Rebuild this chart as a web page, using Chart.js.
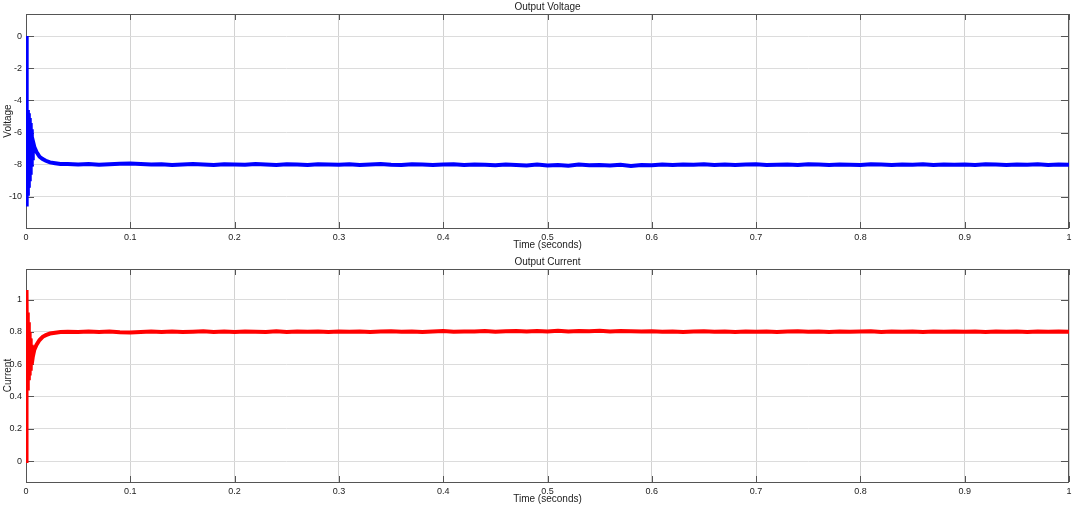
<!DOCTYPE html>
<html>
<head>
<meta charset="utf-8">
<script src="https://cdn.jsdelivr.net/npm/chart.js@4"></script>
<style>
  body { margin: 0; background: #fff; }
  canvas { display: block; }
</style>
</head>
<body>
<canvas id="chartVoltage" width="1080" height="254"></canvas>
<canvas id="chartCurrent" width="1080" height="254"></canvas>
<script>
// axis ticks
var timeTicks = [0, 0.1, 0.2, 0.3, 0.4, 0.5, 0.6, 0.7, 0.8, 0.9, 1];
var voltageTicks = [0, -2, -4, -6, -8, -10];
var currentTicks = [0, 0.2, 0.4, 0.6, 0.8, 1];

// sample times: dense during the start-up transient, then every 0.01 s
var timeV = [0, 0.0004, 0.0009, 0.0013, 0.0018, 0.0022, 0.0027, 0.0031, 0.0036, 0.004, 0.0045, 0.005, 0.0055, 0.006, 0.0065, 0.008, 0.01, 0.013, 0.016, 0.019, 0.023, 0.028, 0.033,
  0.04, 0.05, 0.06, 0.07, 0.08, 0.09, 0.10, 0.11, 0.12, 0.13, 0.14, 0.15, 0.16, 0.17, 0.18, 0.19, 0.20, 0.21, 0.22, 0.23, 0.24, 0.25, 0.26, 0.27, 0.28, 0.29, 0.30,
  0.31, 0.32, 0.33, 0.34, 0.35, 0.36, 0.37, 0.38, 0.39, 0.40, 0.41, 0.42, 0.43, 0.44, 0.45, 0.46, 0.47, 0.48, 0.49, 0.50, 0.51, 0.52, 0.53, 0.54, 0.55, 0.56, 0.57, 0.58, 0.59, 0.60,
  0.61, 0.62, 0.63, 0.64, 0.65, 0.66, 0.67, 0.68, 0.69, 0.70, 0.71, 0.72, 0.73, 0.74, 0.75, 0.76, 0.77, 0.78, 0.79, 0.80, 0.81, 0.82, 0.83, 0.84, 0.85, 0.86, 0.87, 0.88, 0.89, 0.90,
  0.91, 0.92, 0.93, 0.94, 0.95, 0.96, 0.97, 0.98, 0.99, 1.00];
var voltage = [0, -10.6, -4.5, -9.8, -4.6, -9.3, -4.8, -8.9, -5.1, -8.5, -5.4, -8.0, -5.8, -7.6, -6.5, -6.9, -7.2, -7.5, -7.65, -7.75, -7.85, -7.9, -7.95,
  -7.96, -7.98, -7.95, -8.0, -7.97, -7.93, -7.92, -7.95, -7.99, -7.97, -8.01, -7.98, -7.96, -7.99, -8.02, -7.97, -7.98, -8.0, -7.96, -7.99, -8.01, -7.97, -7.98, -8.02, -7.97, -7.99, -8.0,
  -7.97, -8.01, -7.98, -7.96, -8.0, -8.02, -7.97, -7.99, -8.01, -7.98, -7.97, -8.02, -7.99, -8.0, -8.03, -7.98, -8.01, -8.04, -7.99, -8.05, -8.01, -8.06, -7.99, -8.03, -8.02, -8.05, -8.0, -8.07, -8.01, -8.03,
  -7.98, -8.02, -7.99, -8.0, -7.97, -8.01, -7.98, -8.02, -7.99, -7.97, -8.01, -8.0, -7.98, -8.02, -7.97, -7.99, -8.01, -7.98, -8.0, -8.02, -7.97, -7.99, -8.01, -7.98, -8.0, -7.97, -8.02, -7.99, -8.0, -7.98,
  -8.01, -7.97, -7.99, -8.02, -7.98, -8.0, -7.97, -8.01, -7.99, -8.0];

var timeI = [0, 0.0002, 0.0008, 0.0011, 0.0015, 0.0019, 0.0023, 0.0027, 0.0031, 0.0035, 0.004, 0.0045, 0.005, 0.0055, 0.0065, 0.008, 0.01, 0.013, 0.016, 0.019, 0.023, 0.028, 0.033,
  0.04, 0.05, 0.06, 0.07, 0.08, 0.09, 0.10, 0.11, 0.12, 0.13, 0.14, 0.15, 0.16, 0.17, 0.18, 0.19, 0.20, 0.21, 0.22, 0.23, 0.24, 0.25, 0.26, 0.27, 0.28, 0.29, 0.30,
  0.31, 0.32, 0.33, 0.34, 0.35, 0.36, 0.37, 0.38, 0.39, 0.40, 0.41, 0.42, 0.43, 0.44, 0.45, 0.46, 0.47, 0.48, 0.49, 0.50, 0.51, 0.52, 0.53, 0.54, 0.55, 0.56, 0.57, 0.58, 0.59, 0.60,
  0.61, 0.62, 0.63, 0.64, 0.65, 0.66, 0.67, 0.68, 0.69, 0.70, 0.71, 0.72, 0.73, 0.74, 0.75, 0.76, 0.77, 0.78, 0.79, 0.80, 0.81, 0.82, 0.83, 0.84, 0.85, 0.86, 0.87, 0.88, 0.89, 0.90,
  0.91, 0.92, 0.93, 0.94, 0.95, 0.96, 0.97, 0.98, 0.99, 1.00];
var current = [0, 0.6, 1.06, 0.45, 0.92, 0.48, 0.86, 0.5, 0.8, 0.53, 0.76, 0.56, 0.72, 0.6, 0.645, 0.69, 0.72, 0.75, 0.77, 0.78, 0.79, 0.795, 0.80,
  0.801, 0.799, 0.803, 0.8, 0.802, 0.798, 0.797, 0.799, 0.802, 0.8, 0.803, 0.799, 0.801, 0.804, 0.8, 0.802, 0.799, 0.803, 0.801, 0.8, 0.804, 0.799, 0.802, 0.801, 0.803, 0.8, 0.802,
  0.801, 0.803, 0.8, 0.802, 0.804, 0.801, 0.803, 0.8, 0.802, 0.805, 0.801, 0.803, 0.802, 0.805, 0.801, 0.804, 0.806, 0.802, 0.805, 0.803, 0.807, 0.802, 0.805, 0.804, 0.808, 0.803, 0.806, 0.804, 0.802, 0.804,
  0.801, 0.803, 0.8, 0.802, 0.804, 0.801, 0.803, 0.8, 0.802, 0.801, 0.803, 0.8, 0.802, 0.804, 0.801, 0.802, 0.8, 0.803, 0.801, 0.802, 0.804, 0.8, 0.802, 0.801, 0.803, 0.8, 0.802, 0.801, 0.803, 0.801,
  0.802, 0.8, 0.803, 0.801, 0.802, 0.8, 0.803, 0.801, 0.802, 0.801];

var frameColor = '#555';

// box round the plot area plus MATLAB style inner tick marks
var framePlugin = {
    id: 'frame',
    beforeDatasetsDraw: function(chart) {
        var ctx = chart.ctx, a = chart.chartArea;
        var xs = chart.scales.x, ys = chart.scales.y;
        ctx.save();
        ctx.strokeStyle = frameColor;
        ctx.lineWidth = 1;
        ctx.beginPath();
        xs.ticks.forEach(function(t) {
            var px = Math.round(xs.getPixelForValue(t.value)) + 0.5;
            ctx.moveTo(px, a.bottom); ctx.lineTo(px, a.bottom - 6);
            ctx.moveTo(px, a.top); ctx.lineTo(px, a.top + 6);
        });
        ys.ticks.forEach(function(t) {
            var py = Math.round(ys.getPixelForValue(t.value)) + 0.5;
            ctx.moveTo(a.left, py); ctx.lineTo(a.left + 8, py);
            ctx.moveTo(a.right, py); ctx.lineTo(a.right - 8, py);
        });
        ctx.stroke();
        ctx.strokeRect(Math.round(a.left) + 0.5, Math.round(a.top) + 0.5,
            Math.round(a.right - a.left) - 1, Math.round(a.bottom - a.top));
        ctx.restore();
    }
};

function makeChart(id, times, values, color, title, yLabel, yMin, yMax, yTicks, titlePad) {
    var points = times.map(function(t, i) { return { x: t, y: values[i] }; });
    var ctx = document.getElementById(id).getContext('2d');
    return new Chart(ctx, {
        type: 'line',
        data: {
            datasets: [{
                data: points,
                borderColor: color,
                borderWidth: 4,
                borderJoinStyle: 'miter',
                pointRadius: 0,
                tension: 0,
                fill: false
            }]
        },
        options: {
            responsive: false,
            animation: false,
            devicePixelRatio: 1,
            layout: { padding: { left: 0, right: 11, top: 0, bottom: 0 } },
            plugins: {
                legend: { display: false },
                tooltip: { enabled: false },
                title: {
                    display: true,
                    text: title,
                    fullSize: false,
                    color: '#222',
                    font: { family: 'Liberation Sans, Arial', size: 10, weight: 'normal' },
                    padding: titlePad
                }
            },
            scales: {
                x: {
                    type: 'linear',
                    min: 0,
                    max: 1,
                    afterBuildTicks: function(s) { s.ticks = timeTicks.map(function(v) { return { value: v }; }); },
                    afterFit: function(s) { s.height = 26; },
                    grid: { color: '#d2d2d2', drawTicks: false },
                    border: { display: false },
                    ticks: {
                        padding: 4,
                        color: '#222',
                        maxRotation: 0,
                        font: { family: 'Liberation Sans, Arial', size: 9 },
                        callback: function(v) { return String(Math.round(v * 10) / 10); }
                    },
                    title: {
                        display: true,
                        text: 'Time (seconds)',
                        color: '#222',
                        font: { family: 'Liberation Sans, Arial', size: 10 },
                        padding: { top: 0, bottom: 3 }
                    }
                },
                y: {
                    min: yMin,
                    max: yMax,
                    afterBuildTicks: function(s) { s.ticks = yTicks.map(function(v) { return { value: v }; }); },
                    afterFit: function(s) { s.width = 26; },
                    grid: { color: '#dcdcdc', drawTicks: false },
                    border: { display: false },
                    ticks: {
                        padding: 4,
                        color: '#222',
                        font: { family: 'Liberation Sans, Arial', size: 9 },
                        callback: function(v) { return String(Math.round(v * 10) / 10); }
                    },
                    title: {
                        display: true,
                        text: yLabel,
                        color: '#222',
                        font: { family: 'Liberation Sans, Arial', size: 10 },
                        padding: { top: 2, bottom: 0 }
                    }
                }
            }
        },
        plugins: [framePlugin]
    });
}

document.addEventListener('DOMContentLoaded', function() {
    makeChart('chartVoltage', timeV, voltage, '#0000ff', 'Output Voltage', 'Voltage', -11.93, 1.37, voltageTicks, { top: 1, bottom: 1 });
    makeChart('chartCurrent', timeI, current, '#ff0000', 'Output Current', 'Current', -0.13, 1.19, currentTicks, { top: 2, bottom: 1 });
});
</script>
</body>
</html>
